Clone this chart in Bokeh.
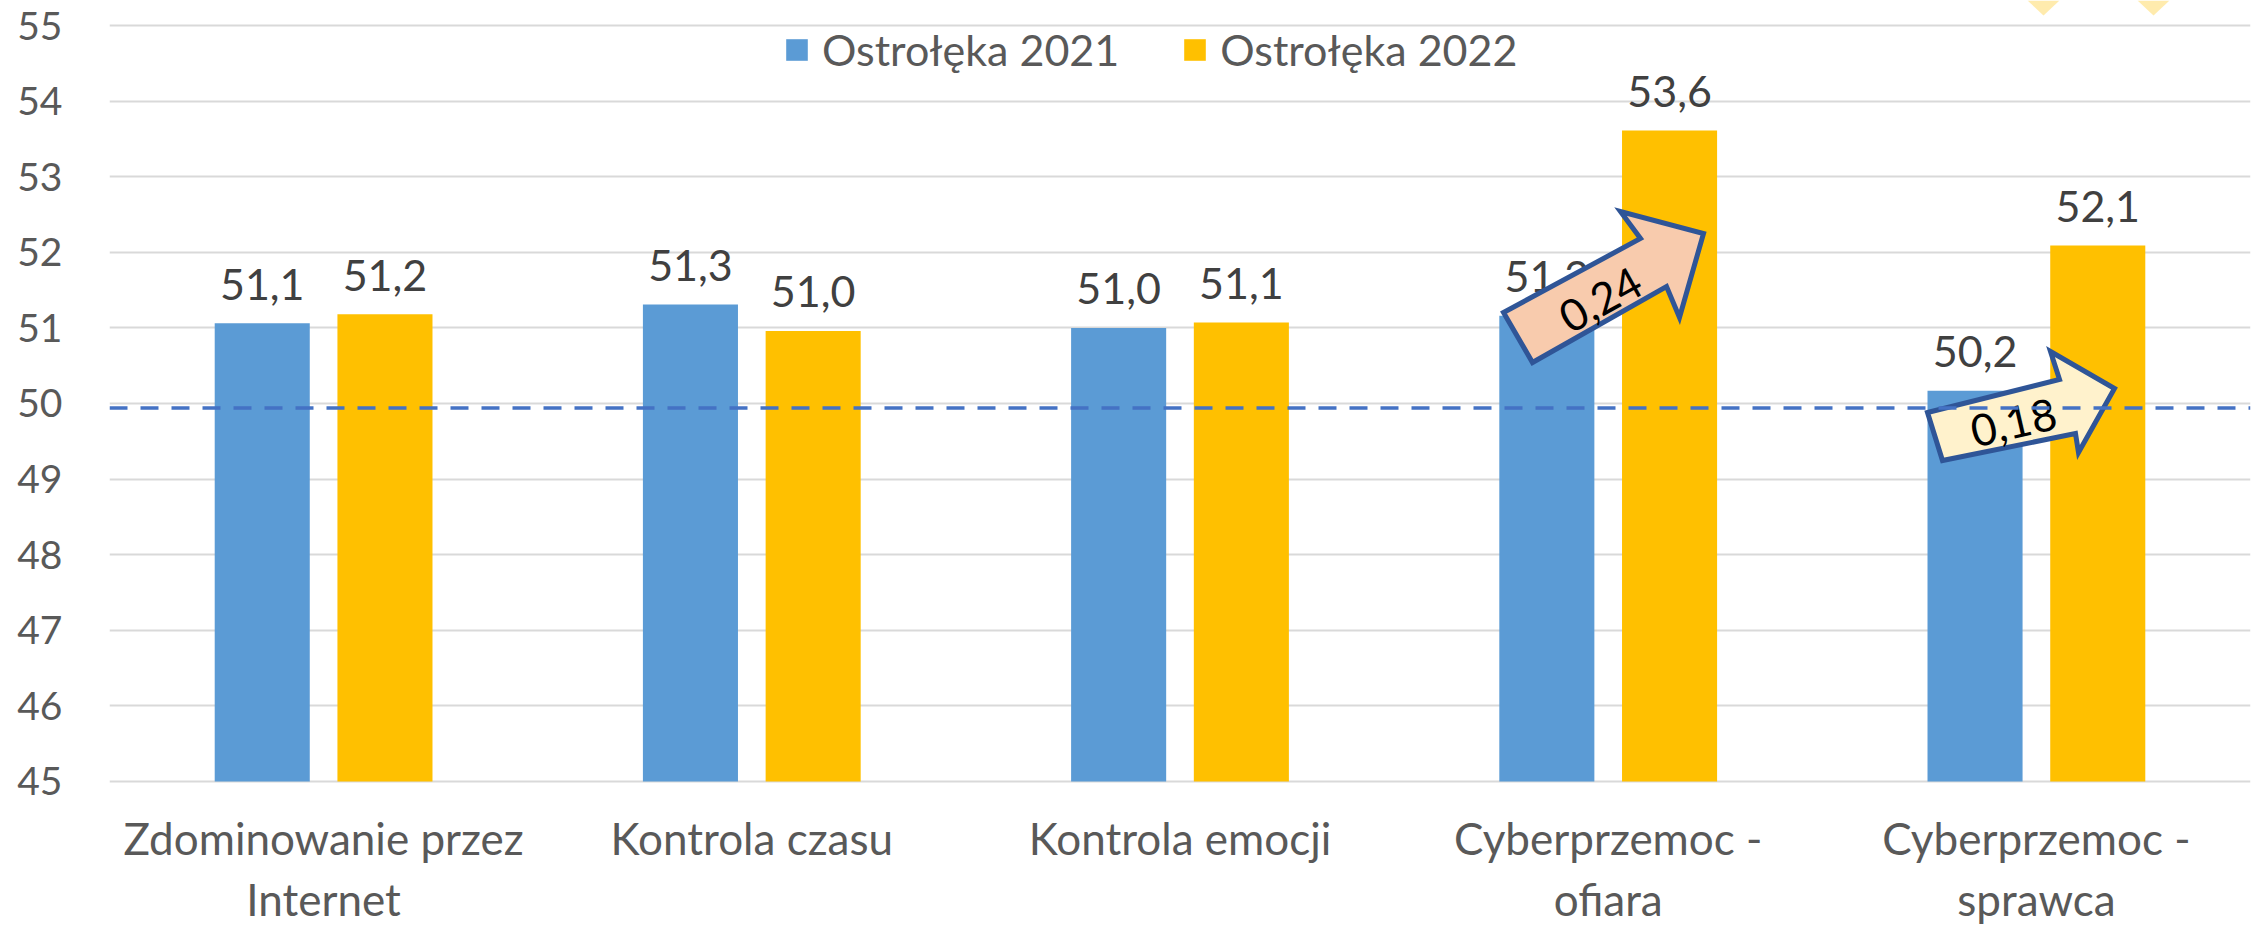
import numpy as np
from bokeh.plotting import figure
from bokeh.models import (Range1d, FixedTicker, Span, Legend, LegendItem, ColumnDataSource)
from bokeh.core.properties import value
from bokeh.embed import file_html
from bokeh.resources import INLINE

# ---------------- data ----------------
categories = ["Zdominowanie przez\nInternet", "Kontrola czasu", "Kontrola emocji",
              "Cyberprzemoc -\nofiara", "Cyberprzemoc -\nsprawca"]
series_2021 = [51.06, 51.31, 51.00, 51.16, 50.17]
series_2022 = [51.18, 50.96, 51.07, 53.61, 52.09]
series_names = ["Ostrołęka 2021", "Ostrołęka 2022"]
y_ticks = [45, 46, 47, 48, 49, 50, 51, 52, 53, 54, 55]
reference_level = 49.94
arrow_labels = ["0,24", "0,18"]

# ---------------- style ----------------
FONT = value("Lato")
BLUE = "#5B9BD5"
YELLOW = "#FFC000"
GRID = "#D9D9D9"
AXIS_TXT = "#595959"
LABEL_TXT = "#404040"

W, H = 2262, 925
p = figure(width=W, height=H, output_backend="svg", toolbar_location=None,
           x_range=Range1d(0, 5), y_range=Range1d(43.0952, 55.3307),
           x_axis_location=None, min_border_left=109, min_border_right=12,
           min_border_top=0, min_border_bottom=0)
p.outline_line_color = None
p.background_fill_color = "white"
p.border_fill_color = "white"

p.xgrid.visible = False
p.ygrid.ticker = FixedTicker(ticks=y_ticks)
p.ygrid.grid_line_color = GRID
p.ygrid.grid_line_width = 2

p.yaxis.ticker = FixedTicker(ticks=y_ticks)
p.yaxis.axis_line_color = None
p.yaxis.major_tick_line_color = None
p.yaxis.minor_tick_line_color = None
p.yaxis.major_tick_out = 0
p.yaxis.major_tick_in = 0
p.yaxis.major_label_standoff = 47
p.yaxis.major_label_text_font = "Lato"
p.yaxis.major_label_text_font_size = "39px"
p.yaxis.major_label_text_color = AXIS_TXT

n = len(categories)
idx = np.arange(n)
centers = idx + 0.5
off = 0.1433
bw = 0.222

src1 = ColumnDataSource(dict(x=centers - off, top=series_2021,
                             lbl=[f"{v:.1f}".replace(".", ",") for v in series_2021]))
src2 = ColumnDataSource(dict(x=centers + off, top=series_2022,
                             lbl=[f"{v:.1f}".replace(".", ",") for v in series_2022]))

r1 = p.vbar(x="x", top="top", bottom=45, width=bw, source=src1, fill_color=BLUE, line_color=None)
r2 = p.vbar(x="x", top="top", bottom=45, width=bw, source=src2, fill_color=YELLOW, line_color=None)

for s in (src1, src2):
    p.text(x="x", y="top", text="lbl", source=s, y_offset=-39, text_align="center",
           text_baseline="alphabetic", text_font=FONT, text_font_size="43px",
           text_color=LABEL_TXT)

# category labels (two lines) under the axis
line1 = [c.split("\n")[0] for c in categories]
line2 = [c.split("\n")[1] if "\n" in c else "" for c in categories]
cat_src = ColumnDataSource(dict(x=centers, y=[45] * n, l1=line1, l2=line2))
p.text(x="x", y="y", text="l1", source=cat_src, y_offset=57, text_align="center",
       text_baseline="alphabetic", text_font=FONT, text_font_size="44px", text_color=AXIS_TXT)
p.text(x="x", y="y", text="l2", source=cat_src, y_offset=118, text_align="center",
       text_baseline="alphabetic", text_font=FONT, text_font_size="44px", text_color=AXIS_TXT)

# decorative partial shapes at top right
for cx in (4.5166, 4.7735):
    p.patch([cx - 0.0374, cx + 0.0374, cx], [55.3307, 55.3307, 55.132],
            fill_color="#FFE699", fill_alpha=0.8, line_color=None)

# block arrows with change annotations
arrow1_x = [3.2555, 3.5754, 3.5287, 3.7226, 3.6665, 3.6362, 3.3232]
arrow1_y = [51.204, 52.183, 52.540, 52.249, 51.138, 51.548, 50.542]
arrow2_x = [4.2457, 4.5540, 4.5329, 4.6824, 4.5983, 4.5913, 4.2807]
arrow2_y = [49.881, 50.317, 50.688, 50.198, 49.352, 49.603, 49.246]
p.patch(arrow1_x, arrow1_y, fill_color="#F8CBAD", line_color="#2F5597",
        line_width=5, line_join="miter")
p.patch(arrow2_x, arrow2_y, fill_color="#FFF2CC", line_color="#2F5597",
        line_width=5, line_join="miter")
p.text(x=[3.482], y=[51.455], text=[arrow_labels[0]], angle=np.deg2rad(29),
       y_offset=6, text_align="center", text_baseline="middle", text_font=FONT,
       text_font_size="44px", text_color="black")
p.text(x=[4.4465], y=[49.815], text=[arrow_labels[1]], angle=np.deg2rad(13),
       y_offset=5, text_align="center", text_baseline="middle", text_font=FONT,
       text_font_size="44px", text_color="black")

# reference dashed line
p.add_layout(Span(location=reference_level, dimension="width", line_color="#4472C4",
                  line_width=3.5, line_dash="18 13"))

legend = Legend(items=[LegendItem(label=series_names[0], renderers=[r1]),
                       LegendItem(label=series_names[1], renderers=[r2])],
                location=(674, 850), orientation="horizontal",
                glyph_width=27, glyph_height=27, label_standoff=12, spacing=62,
                padding=0, margin=0, border_line_color=None, background_fill_alpha=0,
                label_text_font="Lato", label_text_font_size="43px",
                label_text_color=AXIS_TXT)
p.add_layout(legend)

open("out.html", "w").write(file_html(p, INLINE))
